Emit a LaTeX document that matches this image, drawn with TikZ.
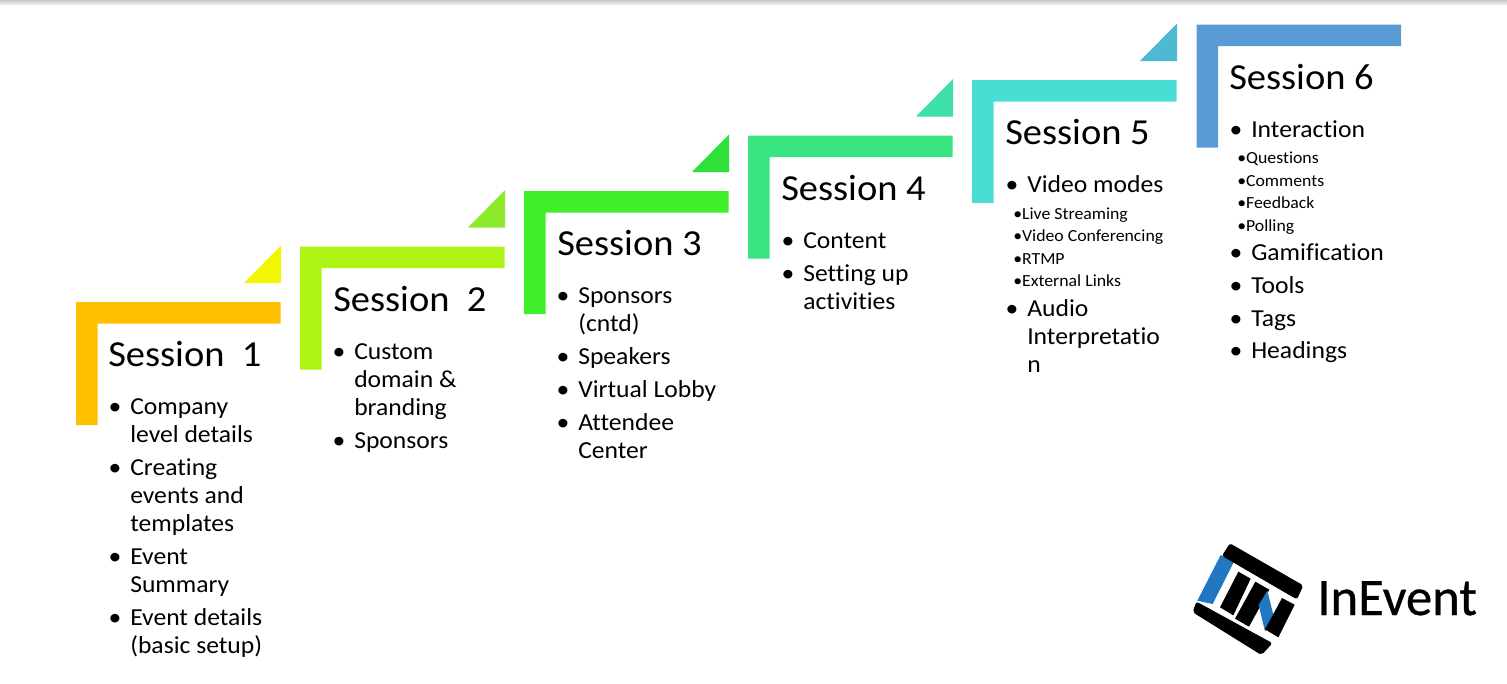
\documentclass[tikz,border=0pt]{standalone}
\usepackage{fontspec}
\setmainfont[Ligatures=NoCommon,FakeStretch=1.05]{Carlito}
\newfontfamily\brandfont[Ligatures=NoCommon,FakeBold=0.6]{Carlito}
\definecolor{cA}{HTML}{FFC000}\definecolor{tA}{HTML}{F2F600}
\definecolor{cB}{HTML}{AEF516}\definecolor{tB}{HTML}{8EEB2C}
\definecolor{cC}{HTML}{3FEF29}\definecolor{tC}{HTML}{2DE03A}
\definecolor{cD}{HTML}{39E580}\definecolor{tD}{HTML}{3FE0A8}
\definecolor{cE}{HTML}{4ADDD3}\definecolor{tE}{HTML}{4DB9D2}
\definecolor{cF}{HTML}{5B9BD5}
\definecolor{logoblue}{HTML}{1F78C0}
\tikzset{
  heading/.style={anchor=base west,inner sep=0pt,font=\fontsize{27.5}{32}\selectfont},
  bigitem/.style={anchor=north west,inner sep=0pt,align=left,yshift=15pt,font=\fontsize{18.3}{21}\selectfont},
  bigbullet/.style={anchor=base,inner sep=0pt,font=\fontsize{18.3}{21}\selectfont},
  subitem/.style={anchor=base west,inner sep=0pt,font=\fontsize{12.7}{14}\selectfont},
  brand/.style={anchor=base west,inner sep=0pt,font=\brandfont\fontsize{39.5}{42}\selectfont},
  logobar/.style={fill=black,draw=black,line width=0.8pt,line join=round,rounded corners=1.5pt},
  logoinner/.style={fill=black},
}
\newcommand{\bigline}[5]{% name, bullet x, text x, baseline y, text
  \node[bigbullet] (#1b) at (#2,#4) {•};
  \node[bigitem] (#1) at (#3,#4) {\rule{0pt}{15pt}#5};}
\newcommand{\subline}[3]{% name, x, y : text follows
  \node[subitem] (#1) at (#2,#3)}
\newcommand{\stair}[3]{% x, y, colour
  \path[fill=#3] (#1,#2) -- ++(204.5,0) -- ++(0,21.5) -- ++(-183,0) -- ++(0,101.5) -- ++(-21.5,0) -- cycle;}
\newcommand{\wedgetri}[3]{% right x, bottom y, colour
  \path[fill=#3] (#1,#2) -- ++(-37,0) -- ++(37,-37.5) -- cycle;}
\begin{document}
\begin{tikzpicture}[x=0.75pt,y=-0.75pt]
\useasboundingbox (0,0) rectangle (1507,683);
\shade[top color=black!22,bottom color=white] (0,0) rectangle (1507,6);

\stair{76}{302}{cA}   \wedgetri{281}{283}{tA}
\stair{300}{246.5}{cB} \wedgetri{505}{227.5}{tB}
\stair{524}{191}{cC}  \wedgetri{729}{172}{tC}
\stair{748}{135.5}{cD} \wedgetri{953}{116.5}{tD}
\stair{972}{80}{cE}   \wedgetri{1177}{61}{tE}
\stair{1196.5}{24.5}{cF}

\node[heading] (s1) at (108,366) {Session\ \ 1};
\bigline{a1}{115}{130}{414}{Company\\level details}
\bigline{a2}{115}{130}{475}{Creating\\events and\\templates}
\bigline{a3}{115}{130}{564}{Event\\Summary}
\bigline{a4}{115}{130}{625}{Event details\\(basic setup)}

\node[heading] (s2) at (333,311) {Session\ \ 2};
\bigline{b1}{339}{354}{359}{Custom\\domain \&\\branding}
\bigline{b2}{339}{354}{448}{Sponsors}

\node[heading] (s3) at (557,255) {Session 3};
\bigline{c1}{563}{578}{303}{Sponsors\\(cntd)}
\bigline{c2}{563}{578}{364}{Speakers}
\bigline{c3}{563}{578}{397}{Virtual Lobby}
\bigline{c4}{563}{578}{430}{Attendee\\Center}

\node[heading] (s4) at (781,200) {Session 4};
\bigline{d1}{788}{803}{248}{Content}
\bigline{d2}{788}{803}{281}{Setting up\\activities}

\node[heading] (s5) at (1005,144) {Session 5};
\bigline{e1}{1012}{1027}{192}{Video modes}
\subline{e2}{1013}{219}{•Live Streaming};
\subline{e3}{1013}{241}{•Video Conferencing};
\subline{e4}{1013}{264}{•RTMP};
\subline{e5}{1013}{286}{•External Links};
\bigline{e6}{1012}{1027}{316}{Audio\\Interpretatio\\n}

\node[heading] (s6) at (1229,89) {Session 6};
\bigline{f1}{1236}{1251}{137}{Interaction}
\subline{f2}{1237}{163}{•Questions};
\subline{f3}{1237}{186}{•Comments};
\subline{f4}{1237}{208}{•Feedback};
\subline{f5}{1237}{231}{•Polling};
\bigline{f6}{1236}{1251}{260}{Gamification}
\bigline{f7}{1236}{1251}{293}{Tools}
\bigline{f8}{1236}{1251}{326}{Tags}
\bigline{f9}{1236}{1251}{358}{Headings}

\begin{scope}[shift={(1170,520)},x=0.25pt,y=-0.25pt]
  \fill[logoblue] (152,105) -- (192,125) -- (128,252) -- (82,242) -- cycle;
  \path[logobar] (180,72) -- (398,197) -- (380,236) -- (158,107) -- cycle;
  \path[logobar] (80,247) -- (305,370) -- (274,403) -- (70,276) -- cycle;
  \fill[logoinner] (205,155) -- (242,176) -- (190,286) -- (150,262) -- cycle;
  \fill[logoinner] (256,185) -- (298,209) -- (237,320) -- (195,296) -- cycle;
  \fill[logoblue] (292,212) -- (312,292) -- (285,334) -- (266,255) -- cycle;
  \fill[logoinner] (336,234) -- (374,254) -- (325,352) -- (285,328) -- cycle;
\end{scope}
\node[brand] (logo) at (1317,615) {InEvent};
\end{tikzpicture}
\end{document}
